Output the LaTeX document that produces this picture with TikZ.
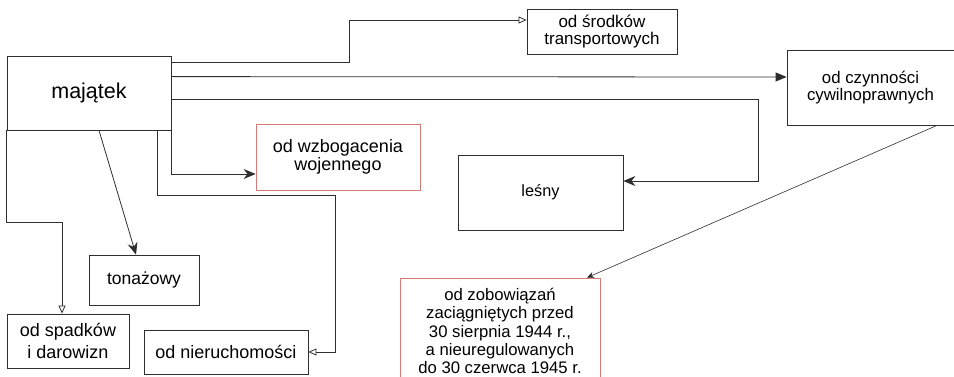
\documentclass[tikz,border=0pt]{standalone}
\usepackage{fontspec}
\setmainfont{Liberation Sans}
\usetikzlibrary{arrows,arrows.meta,calc}
\definecolor{linegray}{HTML}{2E2E2E}
\definecolor{boxred}{HTML}{D57B77}
\begin{document}
\begin{tikzpicture}[x=1pt,y=-1pt,
obj/.style={draw=linegray,line width=0.8pt,align=center,inner sep=0pt,font=\fontsize{17.5}{15.5}\selectfont},
redobj/.style={obj,draw=boxred},
conn/.style={draw=linegray,line width=0.8pt},
openarrow/.style={conn,-{Triangle[open,length=8pt,width=7pt]}},
fullarrow/.style={conn,-{Triangle[length=11pt,width=9pt]}},
arrow/.style={conn,-{Stealth[length=12pt,width=10pt]}},
thinarrow/.style={conn,line width=0.6pt,-{Stealth[length=7pt,width=6pt]}} ]

\useasboundingbox (0,0) rectangle (954,377);

\node[obj,minimum width=164pt,minimum height=74pt,font=\fontsize{21.5}{24}\selectfont](majatek) at (89,93) {majątek};

\node[obj,minimum width=150pt,minimum height=45pt,font=\fontsize{17}{16.5}\selectfont](transport) at (602,31.5) {od środków\\transportowych};

\node[obj,minimum width=167pt,minimum height=75pt,font=\fontsize{16.8}{15}\selectfont](czynnosci) at (870.5,87.5) {od czynności\\cywilnoprawnych};

\node[obj,minimum width=165pt,minimum height=75pt,font=\fontsize{16.3}{18}\selectfont](lesny) at (540.5,192.5) {leśny};

\node[redobj,minimum width=164pt,minimum height=66pt,font=\fontsize{18}{16.5}\selectfont](wzbogacenie) at (338,157) {od wzbogacenia\\wojennego};

\node[obj,minimum width=110pt,minimum height=50pt](tonazowy) at (144,280) {tonażowy};

\node[obj,minimum width=122pt,minimum height=54pt,font=\fontsize{18}{21.5}\selectfont](spadki) at (68,341) {od spadków\\i darowizn};

\node[obj,minimum width=164pt,minimum height=44pt,font=\fontsize{18}{20}\selectfont](nieruchomosci) at (226,352) {od nieruchomości};

\node[redobj,minimum width=200pt,minimum height=106pt,font=\fontsize{16.7}{18.3}\selectfont](zobowiazania) at (500,331) {od zobowiązań\\zaciągniętych przed\\30 sierpnia 1944 r.,\\a nieuregulowanych\\do 30 czerwca 1945 r.};

\draw[openarrow] ([yshift=-7pt]majatek.north east) -- ++(178,0) |- ([yshift=11.5pt]transport.west);

\draw[fullarrow] ([yshift=-21pt]majatek.north east) -- ([yshift=10.5pt]czynnosci.west);

\draw[arrow] ([yshift=-44pt]majatek.north east) -- ++(587,0) |- ([yshift=11.5pt]lesny.east);

\draw[arrow] (majatek.south east) |- ([yshift=-17pt]wzbogacenie.west);

\draw[openarrow] ([xshift=-14pt]majatek.south east) -- ++(0,65) -- ++(178,0) |- (nieruchomosci.east);

\draw[openarrow] (majatek.south west) -- ++(0,92) -| ([xshift=-6pt]spadki.north);

\draw[arrow] ([xshift=10pt]majatek.south) -- ([xshift=-8pt]tonazowy.north);

\draw[thinarrow] ([xshift=66.5pt]czynnosci.south) -- ([xshift=87pt]zobowiazania.north);

\end{tikzpicture}
\end{document}
